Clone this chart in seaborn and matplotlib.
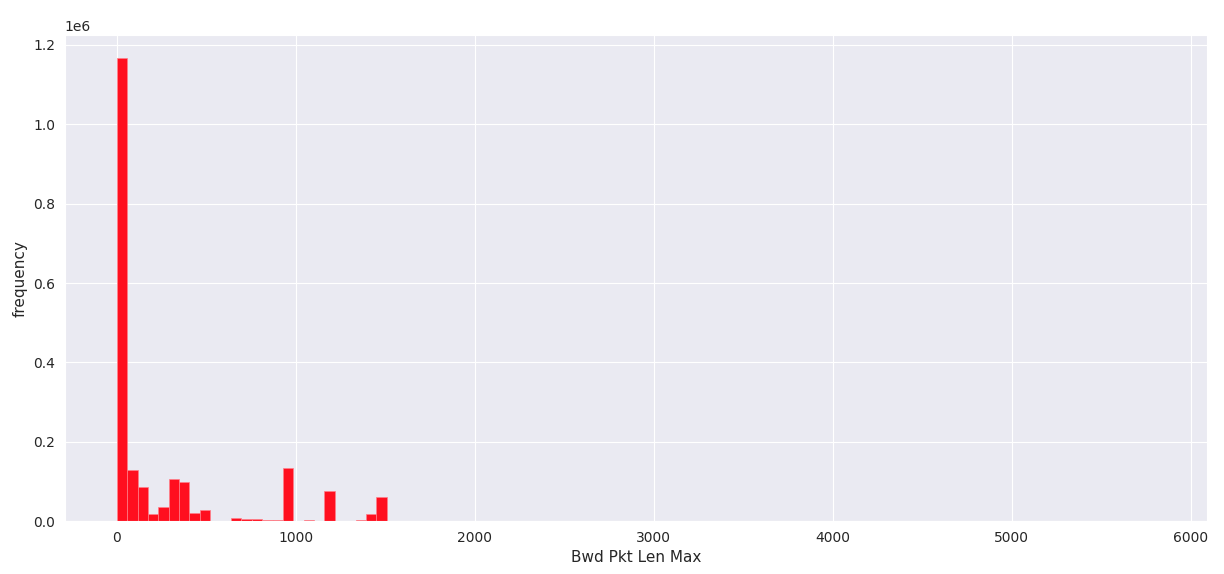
import numpy as np
import pandas as pd
import matplotlib
matplotlib.use("Agg")
import matplotlib.pyplot as plt
import seaborn as sns

# histogram of "Bwd Pkt Len Max": 100 bins over 0..5800, counts per bin
bin_min = 0
bin_max = 5800
n_bins = 100
counts = [1167000, 130000, 87000, 18000, 37000, 106000, 100000, 21000, 27000, 0,
          0, 8000, 6000, 5000, 2500, 2500, 135000, 0, 3000, 0,
          77000, 0, 0, 2500, 18000, 60000] + [0] * 73 + [1]
xlabel = "Bwd Pkt Len Max"
ylabel = "frequency"

sns.set_style("darkgrid")
plt.rcParams['font.family'] = ['DejaVu Sans']

edges = np.linspace(bin_min, bin_max, n_bins + 1)
centers = (edges[:-1] + edges[1:]) / 2
df = pd.DataFrame({"value": centers, "count": counts})

fig = plt.figure(figsize=(12.24, 5.74), dpi=100)
ax = fig.add_axes([0.053, 0.092, 0.933, 0.847])
sns.histplot(data=df, x="value", weights="count", bins=n_bins,
             binrange=(bin_min, bin_max), ax=ax,
             color="#ff0f1f", alpha=1, edgecolor="#ff7f8a", linewidth=0.5)
ax.set_xlabel(xlabel, fontsize=11)
ax.set_ylabel(ylabel, fontsize=11)
ax.tick_params(labelsize=10)
ax.set_ylim(0, 1.225e6)
fig.savefig("out.png", dpi=100)
